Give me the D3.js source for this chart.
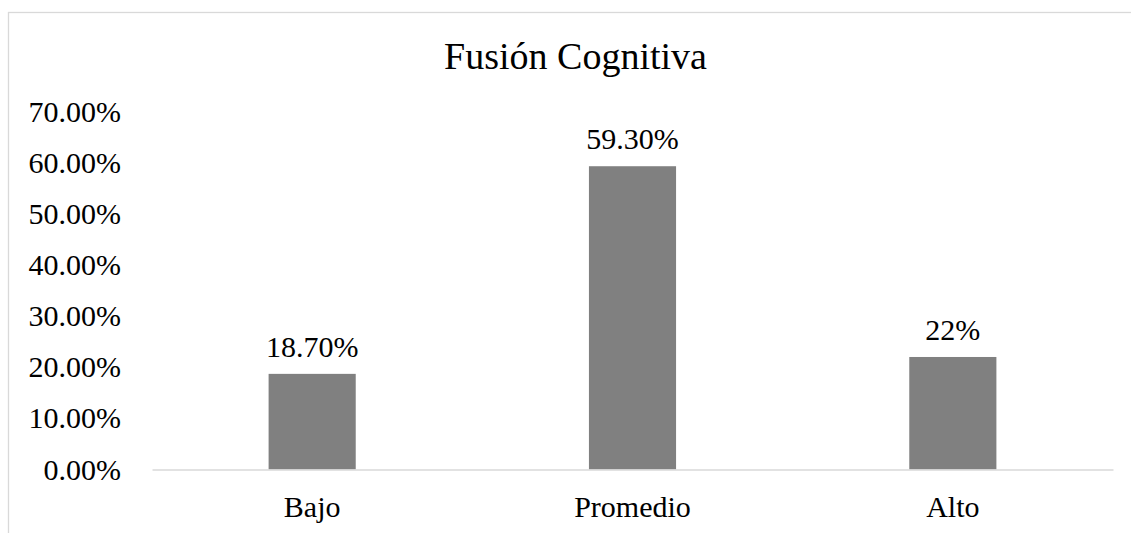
<!DOCTYPE html>
<html>
<head>
<meta charset="utf-8">
<script src="https://cdn.jsdelivr.net/npm/d3@7"></script>
<style>
  body { margin: 0; background: #fff; }
  text { font-family: "Liberation Serif", "Times New Roman", serif; fill: #000; }
</style>
</head>
<body>
<div id="chart"></div>
<script>
// chart data
const categories = ["Bajo", "Promedio", "Alto"];
const values = [0.187, 0.593, 0.22];
const valueLabels = ["18.70%", "59.30%", "22%"];
const yTicks = [0, 0.1, 0.2, 0.3, 0.4, 0.5, 0.6, 0.7];
const chartTitle = "Fusión Cognitiva";

const width = 1131, height = 533;

const svg = d3.select("#chart").append("svg")
    .attr("width", width)
    .attr("height", height);

// outer chart border (only top and left visible)
svg.append("rect")
    .attr("x", 8.5)
    .attr("y", 12.5)
    .attr("width", 1200)
    .attr("height", 700)
    .attr("fill", "none")
    .attr("stroke", "#d9d9d9")
    .attr("stroke-width", 1.3);

const xScale = d3.scaleBand()
    .domain(categories)
    .range([152, 1113])
    .paddingInner(0.728)
    .paddingOuter(0.364);

const yScale = d3.scaleLinear()
    .domain([0, 0.7])
    .range([469.5, 111.5]);

// title
svg.append("text")
    .attr("x", 575.5)
    .attr("y", 69)
    .attr("text-anchor", "middle")
    .style("font-size", "38px")
    .text(chartTitle);

// y axis labels
const yAxis = svg.append("g")
    .attr("transform", "translate(121,0)")
    .call(d3.axisLeft(yScale).tickValues(yTicks).tickFormat(d3.format(".2%")).tickSize(0).tickPadding(0));
yAxis.select(".domain").remove();
yAxis.selectAll("text")
    .style("font-family", "'Liberation Serif', 'Times New Roman', serif")
    .style("font-size", "30px")
    .attr("fill", "#000");

// bars
svg.selectAll(".bar")
    .data(values)
    .enter()
    .append("rect")
    .attr("class", "bar")
    .attr("x", (d, i) => xScale(categories[i]))
    .attr("y", d => yScale(d))
    .attr("width", xScale.bandwidth())
    .attr("height", d => yScale(0) - yScale(d))
    .attr("fill", "#808080");

// baseline
const xAxis = svg.append("g")
    .attr("transform", `translate(0,${yScale(0)})`)
    .call(d3.axisBottom(xScale).tickSize(0).tickPadding(0));
xAxis.select(".domain")
    .attr("stroke", "#d9d9d9")
    .attr("stroke-width", 1.5);
xAxis.selectAll("text")
    .attr("dy", null)
    .attr("y", 47)
    .style("font-family", "'Liberation Serif', 'Times New Roman', serif")
    .style("font-size", "30px")
    .attr("fill", "#000");

// data labels
svg.selectAll(".val")
    .data(values)
    .enter()
    .append("text")
    .attr("class", "val")
    .attr("x", (d, i) => xScale(categories[i]) + xScale.bandwidth() / 2)
    .attr("y", d => yScale(d) - 17)
    .attr("text-anchor", "middle")
    .style("font-size", "30px")
    .text((d, i) => valueLabels[i]);
</script>
</body>
</html>
